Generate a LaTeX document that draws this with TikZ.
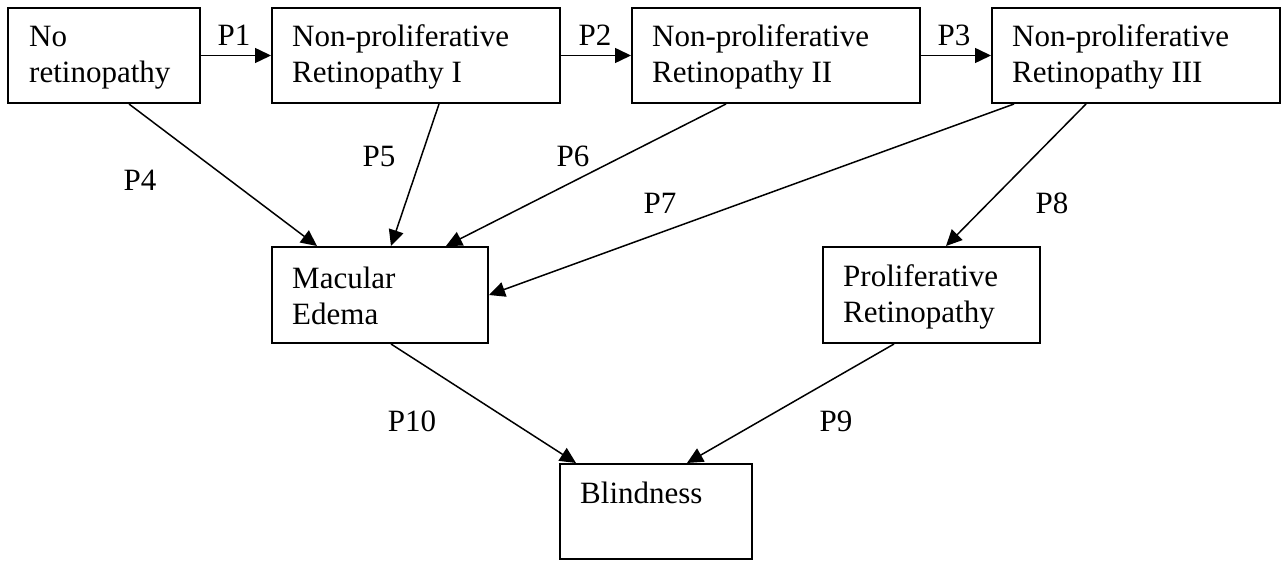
\documentclass[tikz,border=0pt]{standalone}
\usepackage{fontspec}
\setmainfont{Liberation Serif}
\usetikzlibrary{arrows.meta,calc}
\newcommand{\twoln}[2]{\vtop{\hbox{#1}\hbox{#2}}}
\tikzset{
  box/.style={draw, line width=2pt, rectangle, inner sep=0pt},
  txt/.style={anchor=base west, inner sep=0pt, font=\fontsize{31}{36}\selectfont},
  lbl/.style={anchor=base, inner sep=0pt, font=\fontsize{31}{36}\selectfont},
  conn/.style={line width=1.5pt, -{Triangle[length=16pt,width=15pt]}}
}
\begin{document}
\begin{tikzpicture}[x=1pt,y=-1pt]
\useasboundingbox (0,0) rectangle (1282,561);
% boxes
\node[box, minimum width=192pt, minimum height=95pt] (A) at (104,55.5) {};
\node[box, minimum width=288pt, minimum height=95pt] (B) at (416,55.5) {};
\node[box, minimum width=288pt, minimum height=95pt] (C) at (776,55.5) {};
\node[box, minimum width=288pt, minimum height=95pt] (D) at (1136,55.5) {};
\node[box, minimum width=216pt, minimum height=96pt] (M) at (380,295) {};
\node[box, minimum width=217pt, minimum height=96pt] (PR) at (931.5,295) {};
\node[box, minimum width=192pt, minimum height=95pt] (BL) at (656,511.5) {};
% texts
\node[txt] (tA) at (29,47) {\twoln{No}{retinopathy}};
\node[txt] (tB) at (292,47) {\twoln{Non-proliferative}{Retinopathy I}};
\node[txt] (tC) at (652,47) {\twoln{Non-proliferative}{Retinopathy II}};
\node[txt] (tD) at (1012,47) {\twoln{Non-proliferative}{Retinopathy III}};
\node[txt] (tM) at (292,288) {\twoln{Macular}{Edema}};
\node[txt] (tPR) at (843,287) {\twoln{Proliferative}{Retinopathy}};
\node[txt] (tBL) at (580,503) {Blindness};
% connectors
\draw[conn] (A.east) -- (B.west);
\draw[conn] (B.east) -- (C.west);
\draw[conn] (C.east) -- (D.west);
\draw[conn] ($(A.south west)+(122,0)$) -- ($(M.north west)+(46,0)$);
\draw[conn] ($(B.south west)+(168,0)$) -- ($(M.north west)+(120,0)$);
\draw[conn] ($(C.south west)+(95,0)$) -- ($(M.north west)+(175,0)$);
\draw[conn] ($(D.south west)+(23,0)$) -- (M.east);
\draw[conn] ($(D.south west)+(95,0)$) -- ($(PR.north west)+(124,0)$);
\draw[conn] ($(M.south west)+(120,0)$) -- ($(BL.north west)+(17,0)$);
\draw[conn] ($(PR.south west)+(72,0)$) -- ($(BL.north west)+(128,0)$);
% labels
\node[lbl] (l1) at (234,46) {P1};
\node[lbl] (l2) at (595,46) {P2};
\node[lbl] (l3) at (954,46) {P3};
\node[lbl] (l4) at (140,191) {P4};
\node[lbl] (l5) at (379,167) {P5};
\node[lbl] (l6) at (573,167) {P6};
\node[lbl] (l7) at (660,214) {P7};
\node[lbl] (l8) at (1052,214) {P8};
\node[lbl] (l10) at (412,431) {P10};
\node[lbl] (l9) at (836,431) {P9};
\end{tikzpicture}
\end{document}
